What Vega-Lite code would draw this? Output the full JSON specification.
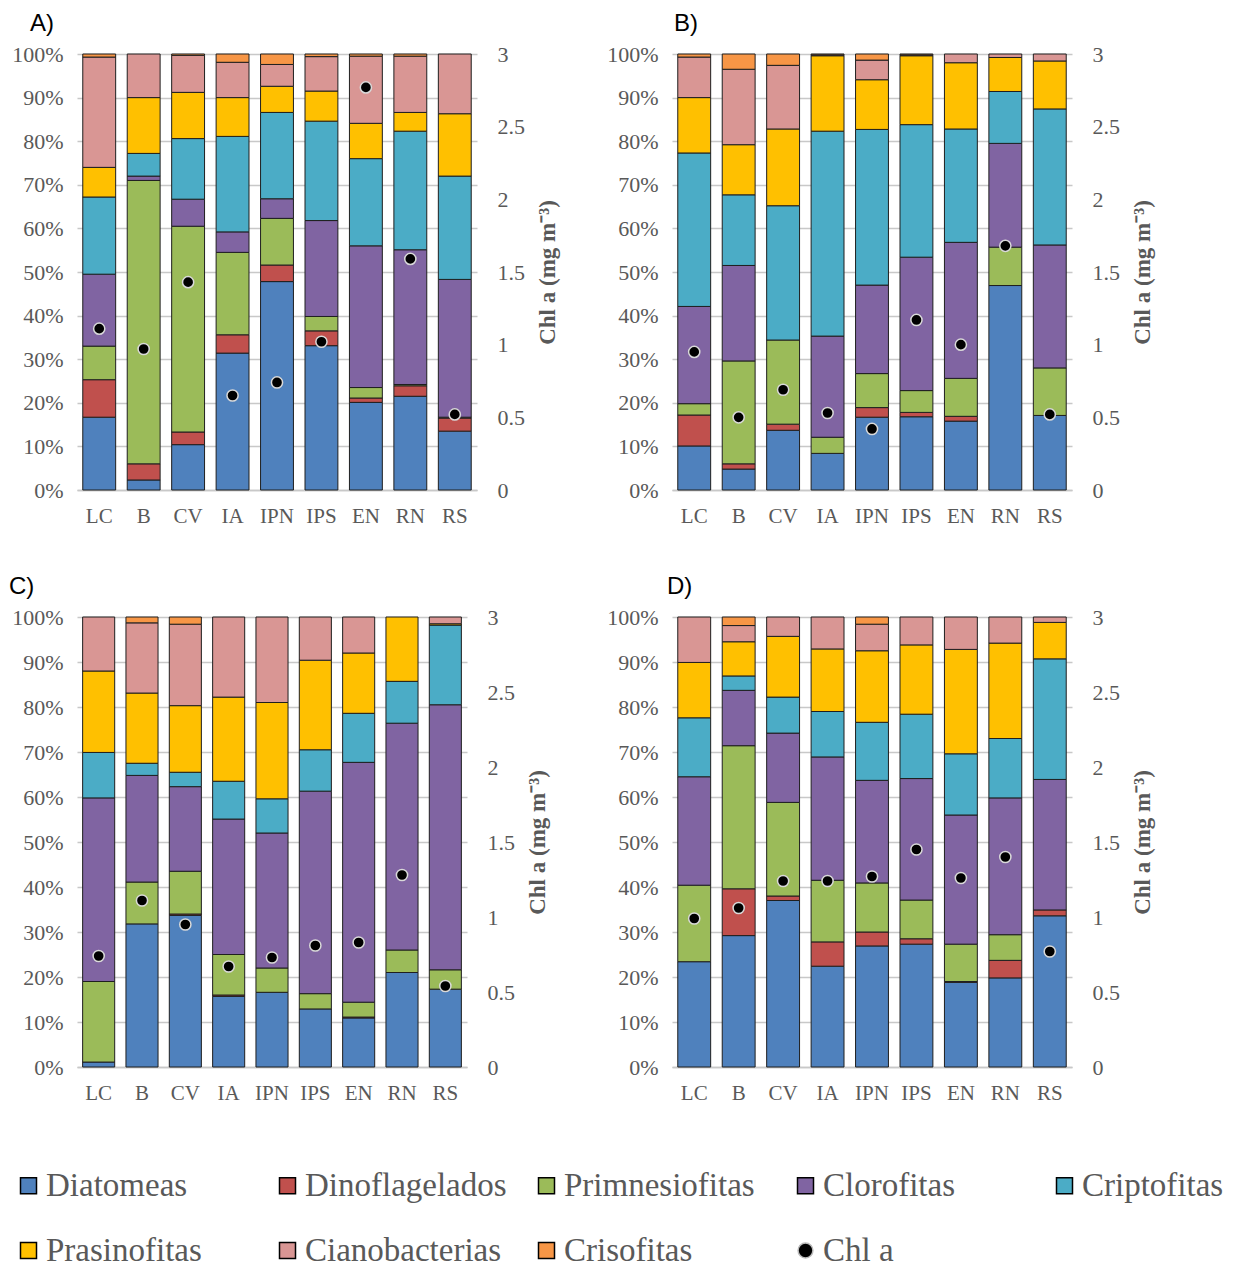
{
  "$schema": "https://vega.github.io/schema/vega-lite/v6.json",
  "background": "white",
  "padding": {"left": 9, "top": 12, "right": 5, "bottom": 5},
  "bounds": "flush",
  "columns": 2,
  "align": "each",
  "spacing": {"row": 127, "column": 195},
  "data": {
    "values": [
      {"p": "A", "site": "LC", "Diatomeas": 16.7, "Dinoflagelados": 8.6, "Primnesiofitas": 7.7, "Clorofitas": 16.5, "Criptofitas": 17.7, "Prasinofitas": 6.8, "Cianobacterias": 25.3, "Crisofitas": 0.7, "chl": 1.11},
      {"p": "A", "site": "B", "Diatomeas": 2.3, "Dinoflagelados": 3.7, "Primnesiofitas": 65.0, "Clorofitas": 1.0, "Criptofitas": 5.2, "Prasinofitas": 12.8, "Cianobacterias": 10.0, "Crisofitas": 0, "chl": 0.97},
      {"p": "A", "site": "CV", "Diatomeas": 10.4, "Dinoflagelados": 2.9, "Primnesiofitas": 47.2, "Clorofitas": 6.2, "Criptofitas": 13.9, "Prasinofitas": 10.6, "Cianobacterias": 8.5, "Crisofitas": 0.3, "chl": 1.43},
      {"p": "A", "site": "IA", "Diatomeas": 31.4, "Dinoflagelados": 4.2, "Primnesiofitas": 18.9, "Clorofitas": 4.7, "Criptofitas": 21.9, "Prasinofitas": 8.9, "Cianobacterias": 8.1, "Crisofitas": 1.9, "chl": 0.65},
      {"p": "A", "site": "IPN", "Diatomeas": 47.8, "Dinoflagelados": 3.8, "Primnesiofitas": 10.7, "Clorofitas": 4.5, "Criptofitas": 19.8, "Prasinofitas": 6.0, "Cianobacterias": 5.0, "Crisofitas": 2.4, "chl": 0.74},
      {"p": "A", "site": "IPS", "Diatomeas": 33.1, "Dinoflagelados": 3.4, "Primnesiofitas": 3.3, "Clorofitas": 22.0, "Criptofitas": 22.8, "Prasinofitas": 6.9, "Cianobacterias": 7.9, "Crisofitas": 0.6, "chl": 1.02},
      {"p": "A", "site": "EN", "Diatomeas": 20.1, "Dinoflagelados": 1.0, "Primnesiofitas": 2.4, "Clorofitas": 32.5, "Criptofitas": 20.0, "Prasinofitas": 8.1, "Cianobacterias": 15.4, "Crisofitas": 0.5, "chl": 2.77},
      {"p": "A", "site": "RN", "Diatomeas": 21.5, "Dinoflagelados": 2.4, "Primnesiofitas": 0.3, "Clorofitas": 30.9, "Criptofitas": 27.2, "Prasinofitas": 4.3, "Cianobacterias": 12.9, "Crisofitas": 0.5, "chl": 1.59},
      {"p": "A", "site": "RS", "Diatomeas": 13.5, "Dinoflagelados": 3.0, "Primnesiofitas": 0.2, "Clorofitas": 31.6, "Criptofitas": 23.7, "Prasinofitas": 14.3, "Cianobacterias": 13.7, "Crisofitas": 0, "chl": 0.52},

      {"p": "B", "site": "LC", "Diatomeas": 10.1, "Dinoflagelados": 7.1, "Primnesiofitas": 2.6, "Clorofitas": 22.3, "Criptofitas": 35.2, "Prasinofitas": 12.7, "Cianobacterias": 9.3, "Crisofitas": 0.7, "chl": 0.95},
      {"p": "B", "site": "B", "Diatomeas": 4.8, "Dinoflagelados": 1.2, "Primnesiofitas": 23.6, "Clorofitas": 21.9, "Criptofitas": 16.2, "Prasinofitas": 11.5, "Cianobacterias": 17.3, "Crisofitas": 3.5, "chl": 0.50},
      {"p": "B", "site": "CV", "Diatomeas": 13.7, "Dinoflagelados": 1.4, "Primnesiofitas": 19.3, "Clorofitas": 0, "Criptofitas": 30.8, "Prasinofitas": 17.6, "Cianobacterias": 14.6, "Crisofitas": 2.6, "chl": 0.69},
      {"p": "B", "site": "IA", "Diatomeas": 8.4, "Dinoflagelados": 0, "Primnesiofitas": 3.7, "Clorofitas": 23.2, "Criptofitas": 47.0, "Prasinofitas": 17.3, "Cianobacterias": 0.2, "Crisofitas": 0.2, "chl": 0.53},
      {"p": "B", "site": "IPN", "Diatomeas": 16.7, "Dinoflagelados": 2.2, "Primnesiofitas": 7.8, "Clorofitas": 20.3, "Criptofitas": 35.7, "Prasinofitas": 11.4, "Cianobacterias": 4.5, "Crisofitas": 1.4, "chl": 0.42},
      {"p": "B", "site": "IPS", "Diatomeas": 16.8, "Dinoflagelados": 1.0, "Primnesiofitas": 5.0, "Clorofitas": 30.6, "Criptofitas": 30.4, "Prasinofitas": 15.8, "Cianobacterias": 0.2, "Crisofitas": 0.2, "chl": 1.17},
      {"p": "B", "site": "EN", "Diatomeas": 15.8, "Dinoflagelados": 1.1, "Primnesiofitas": 8.7, "Clorofitas": 31.2, "Criptofitas": 26.0, "Prasinofitas": 15.2, "Cianobacterias": 2.0, "Crisofitas": 0, "chl": 1.00},
      {"p": "B", "site": "RN", "Diatomeas": 46.9, "Dinoflagelados": 0, "Primnesiofitas": 8.8, "Clorofitas": 23.8, "Criptofitas": 11.9, "Prasinofitas": 7.8, "Cianobacterias": 0.8, "Crisofitas": 0, "chl": 1.68},
      {"p": "B", "site": "RS", "Diatomeas": 17.1, "Dinoflagelados": 0, "Primnesiofitas": 10.9, "Clorofitas": 28.2, "Criptofitas": 31.2, "Prasinofitas": 11.0, "Cianobacterias": 1.6, "Crisofitas": 0, "chl": 0.52},

      {"p": "C", "site": "LC", "Diatomeas": 1.1, "Dinoflagelados": 0, "Primnesiofitas": 17.9, "Clorofitas": 40.8, "Criptofitas": 10.1, "Prasinofitas": 18.1, "Cianobacterias": 12.0, "Crisofitas": 0, "chl": 0.74},
      {"p": "C", "site": "B", "Diatomeas": 31.8, "Dinoflagelados": 0, "Primnesiofitas": 9.3, "Clorofitas": 23.7, "Criptofitas": 2.7, "Prasinofitas": 15.6, "Cianobacterias": 15.6, "Crisofitas": 1.3, "chl": 1.11},
      {"p": "C", "site": "CV", "Diatomeas": 33.7, "Dinoflagelados": 0.3, "Primnesiofitas": 9.5, "Clorofitas": 18.8, "Criptofitas": 3.2, "Prasinofitas": 14.8, "Cianobacterias": 18.1, "Crisofitas": 1.6, "chl": 0.95},
      {"p": "C", "site": "IA", "Diatomeas": 15.7, "Dinoflagelados": 0.3, "Primnesiofitas": 9.0, "Clorofitas": 30.1, "Criptofitas": 8.4, "Prasinofitas": 18.7, "Cianobacterias": 17.8, "Crisofitas": 0, "chl": 0.67},
      {"p": "C", "site": "IPN", "Diatomeas": 16.6, "Dinoflagelados": 0, "Primnesiofitas": 5.4, "Clorofitas": 30.0, "Criptofitas": 7.6, "Prasinofitas": 21.4, "Cianobacterias": 19.0, "Crisofitas": 0, "chl": 0.73},
      {"p": "C", "site": "IPS", "Diatomeas": 12.9, "Dinoflagelados": 0, "Primnesiofitas": 3.4, "Clorofitas": 45.0, "Criptofitas": 9.2, "Prasinofitas": 19.9, "Cianobacterias": 9.6, "Crisofitas": 0, "chl": 0.81},
      {"p": "C", "site": "EN", "Diatomeas": 10.9, "Dinoflagelados": 0.2, "Primnesiofitas": 3.3, "Clorofitas": 53.3, "Criptofitas": 10.9, "Prasinofitas": 13.4, "Cianobacterias": 8.0, "Crisofitas": 0, "chl": 0.83},
      {"p": "C", "site": "RN", "Diatomeas": 21.0, "Dinoflagelados": 0, "Primnesiofitas": 5.0, "Clorofitas": 50.4, "Criptofitas": 9.3, "Prasinofitas": 14.3, "Cianobacterias": 0, "Crisofitas": 0, "chl": 1.28},
      {"p": "C", "site": "RS", "Diatomeas": 17.3, "Dinoflagelados": 0, "Primnesiofitas": 4.3, "Clorofitas": 58.9, "Criptofitas": 17.7, "Prasinofitas": 0.3, "Cianobacterias": 1.5, "Crisofitas": 0, "chl": 0.54},

      {"p": "D", "site": "LC", "Diatomeas": 23.4, "Dinoflagelados": 0, "Primnesiofitas": 17.0, "Clorofitas": 24.1, "Criptofitas": 13.1, "Prasinofitas": 12.3, "Cianobacterias": 10.1, "Crisofitas": 0, "chl": 0.99},
      {"p": "D", "site": "B", "Diatomeas": 29.2, "Dinoflagelados": 10.4, "Primnesiofitas": 31.8, "Clorofitas": 12.3, "Criptofitas": 3.2, "Prasinofitas": 7.6, "Cianobacterias": 3.6, "Crisofitas": 1.9, "chl": 1.06},
      {"p": "D", "site": "CV", "Diatomeas": 37.0, "Dinoflagelados": 1.0, "Primnesiofitas": 20.8, "Clorofitas": 15.4, "Criptofitas": 8.0, "Prasinofitas": 13.5, "Cianobacterias": 4.3, "Crisofitas": 0, "chl": 1.24},
      {"p": "D", "site": "IA", "Diatomeas": 22.4, "Dinoflagelados": 5.4, "Primnesiofitas": 13.7, "Clorofitas": 27.4, "Criptofitas": 10.1, "Prasinofitas": 13.9, "Cianobacterias": 7.1, "Crisofitas": 0, "chl": 1.24},
      {"p": "D", "site": "IPN", "Diatomeas": 26.9, "Dinoflagelados": 3.1, "Primnesiofitas": 10.9, "Clorofitas": 22.8, "Criptofitas": 12.9, "Prasinofitas": 15.9, "Cianobacterias": 5.9, "Crisofitas": 1.6, "chl": 1.27},
      {"p": "D", "site": "IPS", "Diatomeas": 27.3, "Dinoflagelados": 1.2, "Primnesiofitas": 8.6, "Clorofitas": 27.0, "Criptofitas": 14.3, "Prasinofitas": 15.4, "Cianobacterias": 6.2, "Crisofitas": 0, "chl": 1.45},
      {"p": "D", "site": "EN", "Diatomeas": 18.8, "Dinoflagelados": 0.2, "Primnesiofitas": 8.3, "Clorofitas": 28.7, "Criptofitas": 13.6, "Prasinofitas": 23.2, "Cianobacterias": 7.2, "Crisofitas": 0, "chl": 1.26},
      {"p": "D", "site": "RN", "Diatomeas": 19.8, "Dinoflagelados": 3.9, "Primnesiofitas": 5.7, "Clorofitas": 30.4, "Criptofitas": 13.2, "Prasinofitas": 21.2, "Cianobacterias": 5.8, "Crisofitas": 0, "chl": 1.40},
      {"p": "D", "site": "RS", "Diatomeas": 33.6, "Dinoflagelados": 1.3, "Primnesiofitas": 0, "Clorofitas": 29.0, "Criptofitas": 26.8, "Prasinofitas": 8.1, "Cianobacterias": 1.2, "Crisofitas": 0, "chl": 0.77}
    ]
  },
  "concat": [
    {
      "title": {"text": "A)", "dx": -47, "offset": 7},
      "width": 400, "height": 436,
      "transform": [{"filter": "datum.p === 'A'"}],
      "layer": [
        {
          "transform": [
            {"fold": ["Diatomeas", "Dinoflagelados", "Primnesiofitas", "Clorofitas", "Criptofitas", "Prasinofitas", "Cianobacterias", "Crisofitas"], "as": ["grupo", "pct"]},
            {"filter": "datum.pct > 0"},
            {"calculate": "indexof(['Diatomeas','Dinoflagelados','Primnesiofitas','Clorofitas','Criptofitas','Prasinofitas','Cianobacterias','Crisofitas'], datum.grupo)", "as": "orden"}
          ],
          "mark": {"type": "bar", "stroke": "#1f1f1f", "strokeWidth": 1},
          "encoding": {
            "x": {"field": "site", "type": "nominal", "sort": ["LC", "B", "CV", "IA", "IPN", "IPS", "EN", "RN", "RS"], "title": null, "scale": {"paddingInner": 0.26, "paddingOuter": 0.13}},
            "y": {"field": "pct", "type": "quantitative", "stack": "zero", "scale": {"domain": [0, 100]}, "title": null, "axis": {"values": [0, 10, 20, 30, 40, 50, 60, 70, 80, 90, 100], "labelExpr": "datum.value + '%'"}},
            "color": {
              "field": "grupo", "type": "nominal",
              "scale": {"domain": ["Diatomeas", "Dinoflagelados", "Primnesiofitas", "Clorofitas", "Criptofitas", "Prasinofitas", "Cianobacterias", "Crisofitas", "Chl a"], "range": ["#4F81BD", "#C0504D", "#9BBB59", "#8064A2", "#4BACC6", "#FFC000", "#D99694", "#F79646", "#000000"]},
              "legend": {
                "orient": "none", "legendX": -65, "legendY": 1115,
                "direction": "horizontal", "columns": 5, "gridAlign": "all",
                "title": null,
                "columnPadding": 23, "rowPadding": 31, "labelOffset": 1,
                "encode": {
                  "symbols": {
                    "update": {
                      "shape": {"signal": "datum.value === 'Chl a' ? 'circle' : 'square'"},
                      "stroke": {"signal": "datum.value === 'Chl a' ? '#bbbbbb' : '#000000'"},
                      "size": {"signal": "datum.value === 'Chl a' ? 220 : 256"}
                    }
                  }
                }
              }
            },
            "order": {"field": "orden", "type": "quantitative", "sort": "ascending"}
          }
        },
        {
          "mark": {"type": "point", "filled": true, "size": 125, "stroke": "#d9d9d9", "strokeWidth": 1.5, "opacity": 1},
          "encoding": {
            "x": {"field": "site", "type": "nominal", "sort": ["LC", "B", "CV", "IA", "IPN", "IPS", "EN", "RN", "RS"], "title": null},
            "y": {"field": "chl", "type": "quantitative", "scale": {"domain": [0, 3]}, "title": "Chl a (mg m⁻³)", "axis": {"orient": "right", "values": [0, 0.5, 1, 1.5, 2, 2.5, 3], "format": "~g"}},
            "color": {"datum": "Chl a", "type": "nominal"}
          }
        }
      ],
      "resolve": {"scale": {"y": "independent"}}
    },
    {
      "title": {"text": "B)", "dx": 2, "offset": 7},
      "width": 400, "height": 436,
      "transform": [{"filter": "datum.p === 'B'"}],
      "layer": [
        {
          "transform": [
            {"fold": ["Diatomeas", "Dinoflagelados", "Primnesiofitas", "Clorofitas", "Criptofitas", "Prasinofitas", "Cianobacterias", "Crisofitas"], "as": ["grupo", "pct"]},
            {"filter": "datum.pct > 0"},
            {"calculate": "indexof(['Diatomeas','Dinoflagelados','Primnesiofitas','Clorofitas','Criptofitas','Prasinofitas','Cianobacterias','Crisofitas'], datum.grupo)", "as": "orden"}
          ],
          "mark": {"type": "bar", "stroke": "#1f1f1f", "strokeWidth": 1},
          "encoding": {
            "x": {"field": "site", "type": "nominal", "sort": ["LC", "B", "CV", "IA", "IPN", "IPS", "EN", "RN", "RS"], "title": null, "scale": {"paddingInner": 0.26, "paddingOuter": 0.13}},
            "y": {"field": "pct", "type": "quantitative", "stack": "zero", "scale": {"domain": [0, 100]}, "title": null, "axis": {"values": [0, 10, 20, 30, 40, 50, 60, 70, 80, 90, 100], "labelExpr": "datum.value + '%'"}},
            "color": {"field": "grupo", "type": "nominal"},
            "order": {"field": "orden", "type": "quantitative", "sort": "ascending"}
          }
        },
        {
          "mark": {"type": "point", "filled": true, "size": 125, "stroke": "#d9d9d9", "strokeWidth": 1.5, "opacity": 1},
          "encoding": {
            "x": {"field": "site", "type": "nominal", "sort": ["LC", "B", "CV", "IA", "IPN", "IPS", "EN", "RN", "RS"], "title": null},
            "y": {"field": "chl", "type": "quantitative", "scale": {"domain": [0, 3]}, "title": "Chl a (mg m⁻³)", "axis": {"orient": "right", "values": [0, 0.5, 1, 1.5, 2, 2.5, 3], "format": "~g"}},
            "color": {"datum": "Chl a", "type": "nominal"}
          }
        }
      ],
      "resolve": {"scale": {"y": "independent"}}
    },
    {
      "title": {"text": "C)", "dx": -68, "offset": 7},
      "width": 390, "height": 450,
      "transform": [{"filter": "datum.p === 'C'"}],
      "layer": [
        {
          "transform": [
            {"fold": ["Diatomeas", "Dinoflagelados", "Primnesiofitas", "Clorofitas", "Criptofitas", "Prasinofitas", "Cianobacterias", "Crisofitas"], "as": ["grupo", "pct"]},
            {"filter": "datum.pct > 0"},
            {"calculate": "indexof(['Diatomeas','Dinoflagelados','Primnesiofitas','Clorofitas','Criptofitas','Prasinofitas','Cianobacterias','Crisofitas'], datum.grupo)", "as": "orden"}
          ],
          "mark": {"type": "bar", "stroke": "#1f1f1f", "strokeWidth": 1},
          "encoding": {
            "x": {"field": "site", "type": "nominal", "sort": ["LC", "B", "CV", "IA", "IPN", "IPS", "EN", "RN", "RS"], "title": null, "scale": {"paddingInner": 0.26, "paddingOuter": 0.13}},
            "y": {"field": "pct", "type": "quantitative", "stack": "zero", "scale": {"domain": [0, 100]}, "title": null, "axis": {"values": [0, 10, 20, 30, 40, 50, 60, 70, 80, 90, 100], "labelExpr": "datum.value + '%'"}},
            "color": {"field": "grupo", "type": "nominal"},
            "order": {"field": "orden", "type": "quantitative", "sort": "ascending"}
          }
        },
        {
          "mark": {"type": "point", "filled": true, "size": 125, "stroke": "#d9d9d9", "strokeWidth": 1.5, "opacity": 1},
          "encoding": {
            "x": {"field": "site", "type": "nominal", "sort": ["LC", "B", "CV", "IA", "IPN", "IPS", "EN", "RN", "RS"], "title": null},
            "y": {"field": "chl", "type": "quantitative", "scale": {"domain": [0, 3]}, "title": "Chl a (mg m⁻³)", "axis": {"orient": "right", "values": [0, 0.5, 1, 1.5, 2, 2.5, 3], "format": "~g"}},
            "color": {"datum": "Chl a", "type": "nominal"}
          }
        }
      ],
      "resolve": {"scale": {"y": "independent"}}
    },
    {
      "title": {"text": "D)", "dx": -5, "offset": 7},
      "width": 400, "height": 450,
      "transform": [{"filter": "datum.p === 'D'"}],
      "layer": [
        {
          "transform": [
            {"fold": ["Diatomeas", "Dinoflagelados", "Primnesiofitas", "Clorofitas", "Criptofitas", "Prasinofitas", "Cianobacterias", "Crisofitas"], "as": ["grupo", "pct"]},
            {"filter": "datum.pct > 0"},
            {"calculate": "indexof(['Diatomeas','Dinoflagelados','Primnesiofitas','Clorofitas','Criptofitas','Prasinofitas','Cianobacterias','Crisofitas'], datum.grupo)", "as": "orden"}
          ],
          "mark": {"type": "bar", "stroke": "#1f1f1f", "strokeWidth": 1},
          "encoding": {
            "x": {"field": "site", "type": "nominal", "sort": ["LC", "B", "CV", "IA", "IPN", "IPS", "EN", "RN", "RS"], "title": null, "scale": {"paddingInner": 0.26, "paddingOuter": 0.13}},
            "y": {"field": "pct", "type": "quantitative", "stack": "zero", "scale": {"domain": [0, 100]}, "title": null, "axis": {"values": [0, 10, 20, 30, 40, 50, 60, 70, 80, 90, 100], "labelExpr": "datum.value + '%'"}},
            "color": {"field": "grupo", "type": "nominal"},
            "order": {"field": "orden", "type": "quantitative", "sort": "ascending"}
          }
        },
        {
          "mark": {"type": "point", "filled": true, "size": 125, "stroke": "#d9d9d9", "strokeWidth": 1.5, "opacity": 1},
          "encoding": {
            "x": {"field": "site", "type": "nominal", "sort": ["LC", "B", "CV", "IA", "IPN", "IPS", "EN", "RN", "RS"], "title": null},
            "y": {"field": "chl", "type": "quantitative", "scale": {"domain": [0, 3]}, "title": "Chl a (mg m⁻³)", "axis": {"orient": "right", "values": [0, 0.5, 1, 1.5, 2, 2.5, 3], "format": "~g"}},
            "color": {"datum": "Chl a", "type": "nominal"}
          }
        }
      ],
      "resolve": {"scale": {"y": "independent"}}
    }
  ],
  "config": {
    "view": {"stroke": null},
    "title": {"anchor": "start", "frame": "group", "font": "Liberation Sans", "fontSize": 24, "fontWeight": "normal", "color": "#000000"},
    "axis": {"labelFont": "Liberation Serif", "labelFontSize": 21, "labelColor": "#595959", "ticks": false, "domain": false, "grid": false},
    "axisX": {"domain": true, "domainColor": "#c8c8c8", "domainWidth": 1.5, "labelPadding": 15, "labelAngle": 0},
    "axisLeft": {"grid": true, "gridColor": "#c8c8c8", "gridWidth": 1.5, "labelPadding": 14, "labelFontSize": 22},
    "axisRight": {"labelPadding": 20, "labelFontSize": 22, "titleFont": "Liberation Serif", "titleFontSize": 23, "titleColor": "#595959", "titleFontWeight": "bold", "titleAngle": 270, "titlePadding": 35},
    "legend": {
      "labelFont": "Liberation Serif", "labelFontSize": 33, "labelColor": "#595959", "labelLimit": 400,
      "symbolType": "square", "symbolSize": 256, "symbolStrokeColor": "#000000", "symbolStrokeWidth": 1.5
    }
  }
}
